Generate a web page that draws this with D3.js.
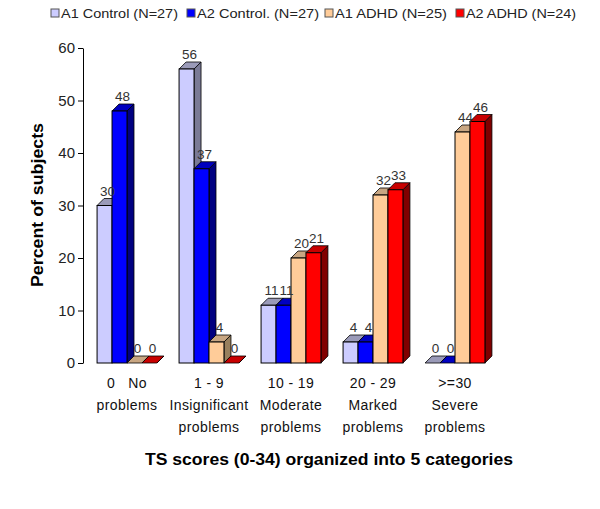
<!doctype html>
<html>
<head>
<meta charset="UTF-8">
<title>TS scores</title>
<script src="https://d3js.org/d3.v7.min.js"></script>
<style>
  body { margin: 0; background: #fff; }
  text { font-family: "Liberation Sans", Arial, sans-serif; }
</style>
</head>
<body>
<svg width="600" height="509"></svg>
<script>
var catLine1 = ["0   No", "1 - 9", "10 - 19", "20 - 29", ">=30"];
var catLine2 = ["problems", "Insignificant", "Moderate", "Marked", "Severe"];
var catLine3 = ["", "problems", "problems", "problems", "problems"];
var seriesNames = ["A1 Control (N=27)", "A2 Control. (N=27)", "A1 ADHD (N=25)", "A2 ADHD (N=24)"];
var a1Control = [30, 56, 11, 4, 0];
var a2Control = [48, 37, 11, 4, 0];
var a1Adhd = [0, 4, 20, 32, 44];
var a2Adhd = [0, 0, 21, 33, 46];
var yTicks = [0, 10, 20, 30, 40, 50, 60];

var series = [a1Control, a2Control, a1Adhd, a2Adhd];
var front = ["#ccccff", "#0000ff", "#ffcc99", "#ff0000"];
var topC = ["#9a9ab8", "#0000c0", "#c8a682", "#c80000"];
var side = ["#7a7a96", "#000080", "#98805e", "#800000"];
var legendX = [51, 187, 325, 456];
var legendW = [117, 122, 112, 110];

var svg = d3.select("svg");
var dx = 7, dy = 7;

var y = d3.scaleLinear().domain([0, 60]).range([363, 48]);
var x0 = d3.scaleBand().domain(d3.range(5)).range([86, 496])
  .paddingInner(0.27).paddingOuter(0.135);
var x1 = d3.scaleBand().domain(d3.range(4)).range([0, x0.bandwidth()]);

// y axis
var yAxis = svg.append("g").attr("transform", "translate(83,0)")
  .call(d3.axisLeft(y).tickValues(yTicks).tickSize(5).tickSizeOuter(0));
yAxis.selectAll("text").attr("font-size", 15).attr("fill", "#222")
  .style("font-family", "Liberation Sans, Arial, sans-serif");
yAxis.selectAll("line,path").attr("stroke", "#000");

// bars
for (var g = 0; g < 5; g++) {
  for (var s = 0; s < 4; s++) {
    var v = series[s][g];
    var xl = x0(g) + x1(s), w = x1.bandwidth();
    var yt = y(v), yb = y(0);
    var grp = svg.append("g");
    // side face
    grp.append("path")
      .attr("d", "M" + (xl + w) + "," + yb + "L" + (xl + w + dx) + "," + (yb - dy) +
        "L" + (xl + w + dx) + "," + (yt - dy) + "L" + (xl + w) + "," + yt + "Z")
      .attr("fill", side[s]).attr("stroke", "#000").attr("stroke-width", 0.8);
    // top face
    grp.append("path")
      .attr("d", "M" + xl + "," + yt + "L" + (xl + dx) + "," + (yt - dy) +
        "L" + (xl + w + dx) + "," + (yt - dy) + "L" + (xl + w) + "," + yt + "Z")
      .attr("fill", topC[s]).attr("stroke", "#000").attr("stroke-width", 0.8);
    // front face
    grp.append("rect")
      .attr("x", xl).attr("y", yt).attr("width", w).attr("height", yb - yt)
      .attr("fill", front[s]).attr("stroke", "#000").attr("stroke-width", 1);
  }
}

// value labels
for (var g = 0; g < 5; g++) {
  for (var s = 0; s < 4; s++) {
    var v = series[s][g];
    svg.append("text")
      .attr("x", x0(g) + x1(s) + x1.bandwidth() / 2 + 3)
      .attr("y", y(v) - dy - 3)
      .attr("text-anchor", "middle").attr("font-size", 13.5).attr("fill", "#333")
      .text(v);
  }
}

// category labels
[catLine1, catLine2, catLine3].forEach(function(lines, li) {
  svg.selectAll(null).data(lines).enter().append("text")
    .attr("x", function(d, i) { return x0(i) + x0.bandwidth() / 2; })
    .attr("y", 388 + li * 22)
    .attr("text-anchor", "middle").attr("font-size", 14).attr("fill", "#111")
    .attr("letter-spacing", 0.4)
    .attr("xml:space", "preserve")
    .text(function(d) { return d; });
});

// axis titles
svg.append("text")
  .attr("transform", "translate(43,205) rotate(-90)")
  .attr("text-anchor", "middle").attr("font-size", 16).attr("font-weight", "bold")
  .attr("textLength", 164).attr("lengthAdjust", "spacingAndGlyphs")
  .text("Percent of subjects");
svg.append("text")
  .attr("x", 329).attr("y", 465)
  .attr("text-anchor", "middle").attr("font-size", 16).attr("font-weight", "bold")
  .attr("textLength", 368).attr("lengthAdjust", "spacingAndGlyphs")
  .text("TS scores (0-34) organized into 5 categories");

// legend
seriesNames.forEach(function(n, i) {
  svg.append("rect").attr("x", legendX[i]).attr("y", 9).attr("width", 8).attr("height", 8)
    .attr("fill", front[i]).attr("stroke", "#555").attr("stroke-width", 1);
  svg.append("text").attr("x", legendX[i] + 10).attr("y", 18)
    .attr("font-size", 13.5).attr("fill", "#222")
    .attr("textLength", legendW[i]).attr("lengthAdjust", "spacingAndGlyphs")
    .text(n);
});
</script>
</body>
</html>
